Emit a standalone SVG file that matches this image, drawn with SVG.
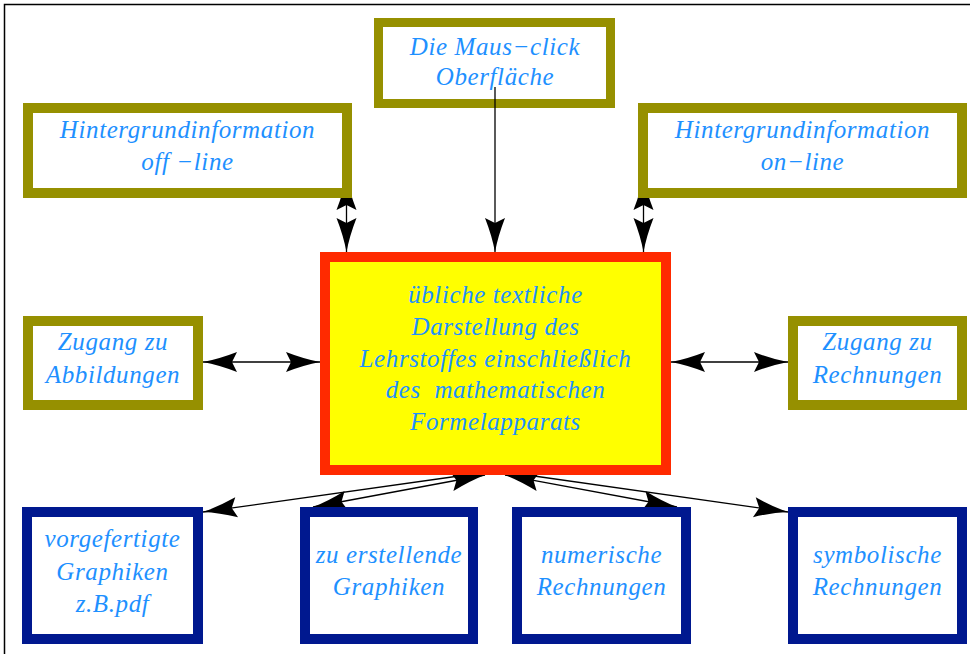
<svg xmlns="http://www.w3.org/2000/svg" width="970" height="654" viewBox="0 0 970 654">
<style>
.t{font-family:"Liberation Serif",serif;font-style:italic;font-size:25px;letter-spacing:0.6px;fill:#1e90ff;text-anchor:middle}
.ol{fill:#fff;stroke:#969000;stroke-width:10}
.bl{fill:#fff;stroke:#00188f;stroke-width:10}
.c{fill:#ffff00;stroke:#ff2a00;stroke-width:10}
.ln{stroke:#000;stroke-width:1.3;fill:none}
</style>
<defs>
<marker id="ah" viewBox="-35 -11 36 22" refX="0" refY="0" markerWidth="36" markerHeight="22" markerUnits="userSpaceOnUse" orient="auto-start-reverse">
<path d="M0,0 Q-16,-3 -34,-10 L-29,0 L-34,10 Q-16,3 0,0 Z" fill="#000"/>
</marker>
</defs>
<rect x="4.5" y="4.5" width="1000" height="700" fill="none" stroke="#000" stroke-width="1.5"/>
<g id="maus">
<rect x="378.5" y="22.5" width="232" height="81" class="ol" style="stroke-width:9"/>
<text class="t" x="495" y="55">Die Maus−click</text>
<text class="t" x="495" y="85">Oberfläche</text>
</g>
<g id="connectors">
<line class="ln" x1="495" y1="87" x2="495" y2="252" marker-end="url(#ah)"/>
<line class="ln" x1="346.5" y1="176" x2="346.5" y2="252" marker-start="url(#ah)" marker-end="url(#ah)"/>
<line class="ln" x1="643.5" y1="176" x2="643.5" y2="252" marker-start="url(#ah)" marker-end="url(#ah)"/>
<line class="ln" x1="203" y1="362" x2="320" y2="362" marker-start="url(#ah)" marker-end="url(#ah)"/>
<line class="ln" x1="671" y1="362" x2="788" y2="362" marker-start="url(#ah)" marker-end="url(#ah)"/>
<line class="ln" x1="466" y1="475" x2="203" y2="512" marker-end="url(#ah)"/>
<line class="ln" x1="313" y1="507" x2="485" y2="475" marker-start="url(#ah)" marker-end="url(#ah)"/>
<line class="ln" x1="505" y1="475" x2="677" y2="507" marker-start="url(#ah)" marker-end="url(#ah)"/>
<line class="ln" x1="527" y1="475" x2="788" y2="512" marker-end="url(#ah)"/>
</g>
<g id="offline">
<rect x="28" y="108" width="319" height="85" class="ol"/>
<text class="t" x="187.5" y="138">Hintergrundinformation</text>
<text class="t" x="187.5" y="170">off −line</text>
</g>
<g id="online">
<rect x="643" y="108" width="319" height="85" class="ol"/>
<text class="t" x="802.5" y="138">Hintergrundinformation</text>
<text class="t" x="802.5" y="170">on−line</text>
</g>
<g id="zugang-abb">
<rect x="28" y="321" width="170" height="84" class="ol"/>
<text class="t" x="113" y="350">Zugang zu</text>
<text class="t" x="113" y="383">Abbildungen</text>
</g>
<g id="zugang-rech">
<rect x="793" y="321" width="169" height="84" class="ol"/>
<text class="t" x="877.5" y="350">Zugang zu</text>
<text class="t" x="877.5" y="383">Rechnungen</text>
</g>
<g id="center">
<rect x="325" y="257" width="341" height="213" class="c"/>
<text class="t" x="495.5" y="303">übliche textliche</text>
<text class="t" x="495.5" y="335">Darstellung des</text>
<text class="t" x="495.5" y="367">Lehrstoffes einschließlich</text>
<text class="t" x="495.5" y="398">des&#160; mathematischen</text>
<text class="t" x="495.5" y="430">Formelapparats</text>
</g>
<g id="vorgefertigte">
<rect x="27" y="512" width="171" height="127" class="bl"/>
<text class="t" x="112.5" y="547">vorgefertigte</text>
<text class="t" x="112.5" y="580">Graphiken</text>
<text class="t" x="112.5" y="612">z.B.pdf</text>
</g>
<g id="zu-erstellende">
<rect x="305" y="512" width="168" height="127" class="bl"/>
<text class="t" x="389" y="563">zu erstellende</text>
<text class="t" x="389" y="595">Graphiken</text>
</g>
<g id="numerische">
<rect x="517" y="512" width="169" height="127" class="bl"/>
<text class="t" x="601.5" y="563">numerische</text>
<text class="t" x="601.5" y="595">Rechnungen</text>
</g>
<g id="symbolische">
<rect x="793" y="512" width="169" height="127" class="bl"/>
<text class="t" x="877.5" y="563">symbolische</text>
<text class="t" x="877.5" y="595">Rechnungen</text>
</g>
</svg>
